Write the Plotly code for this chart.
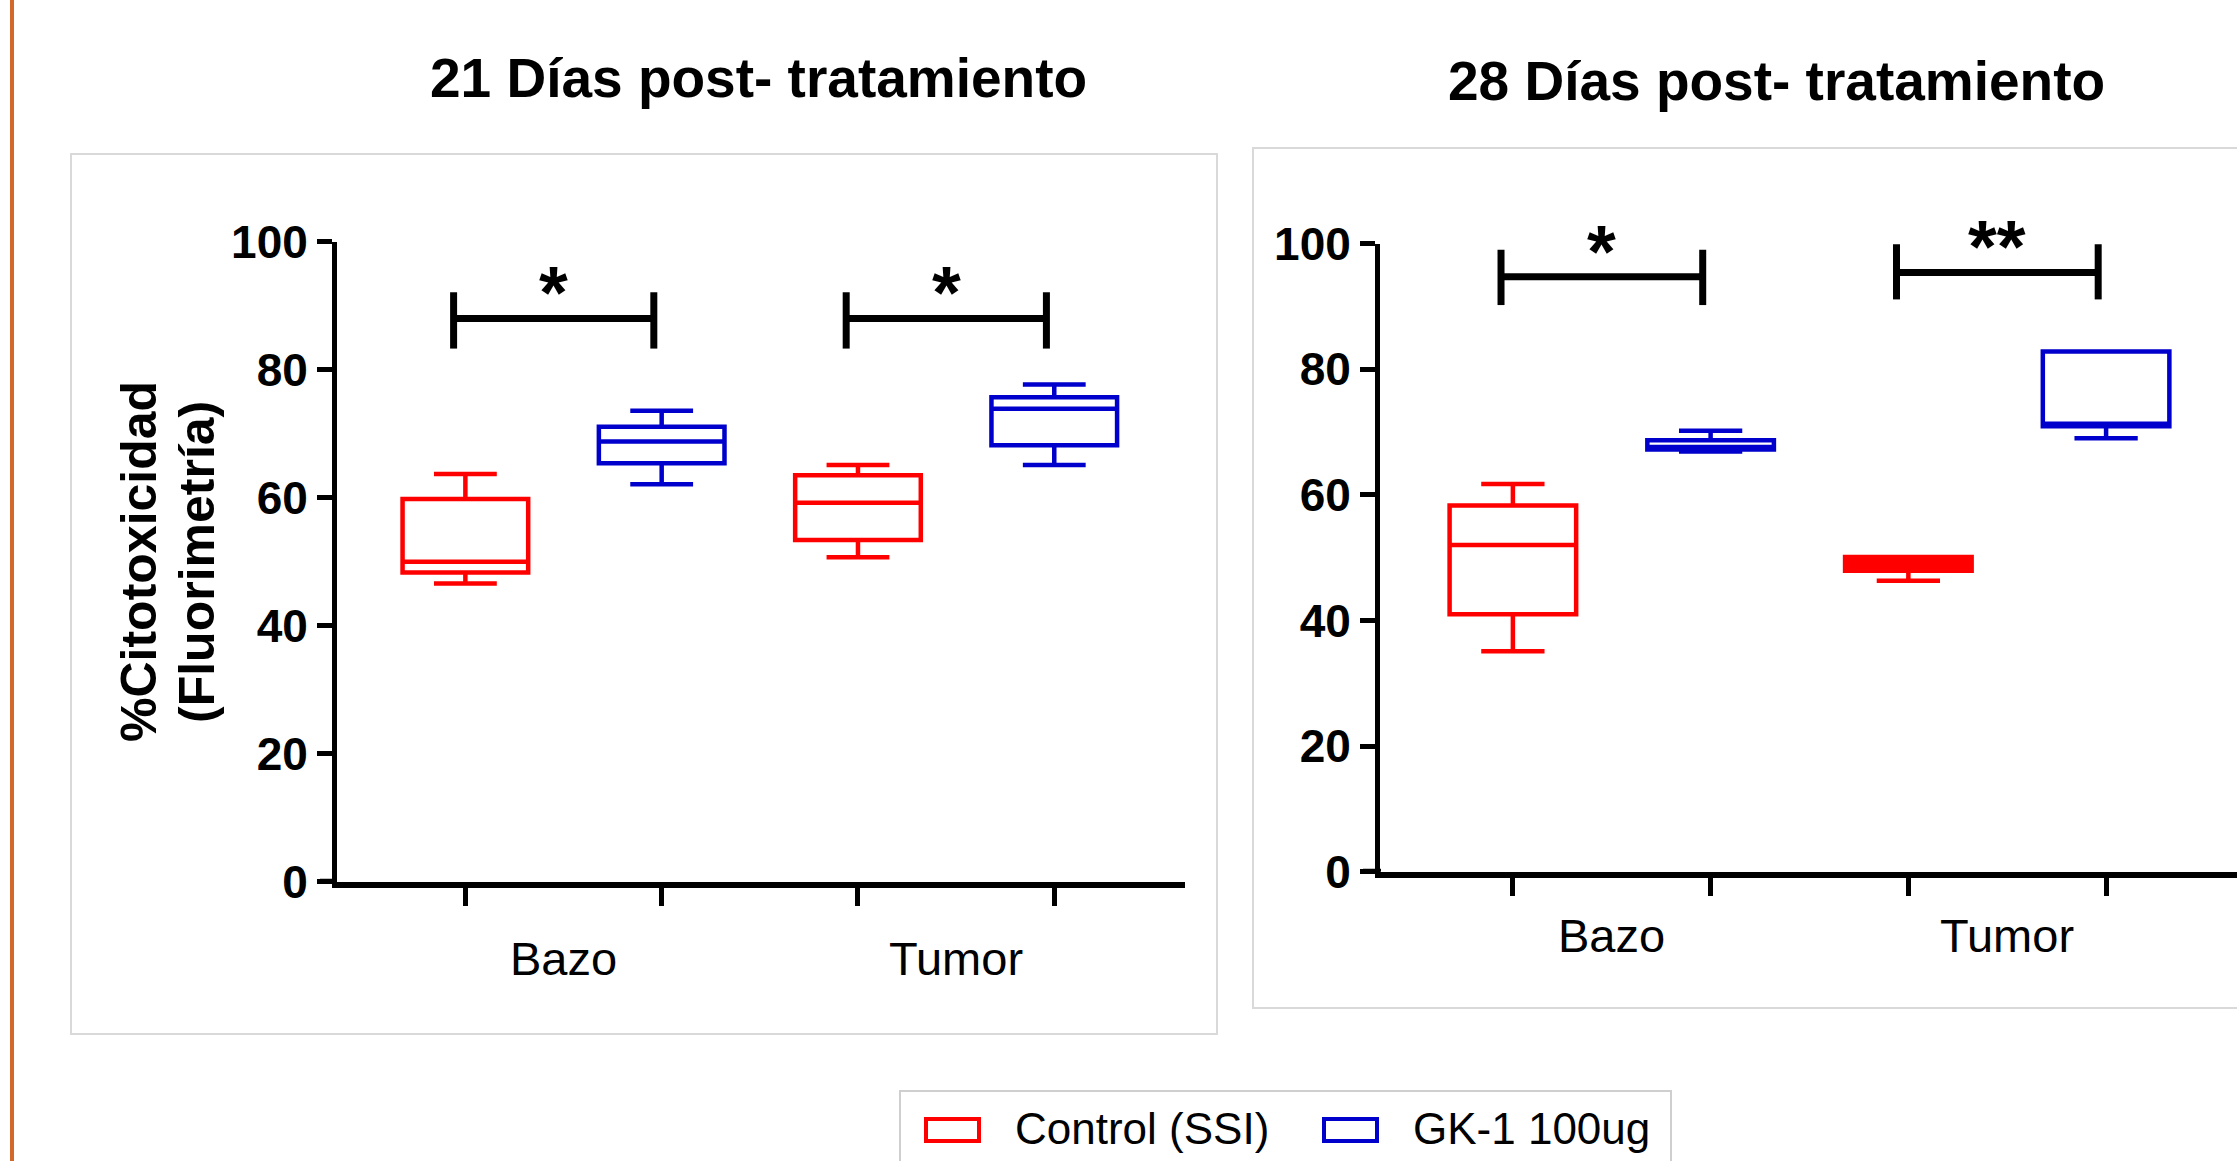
import plotly.graph_objects as go

W, H = 2237, 1161

# ---------------- data ----------------
categories = ["Bazo", "Tumor"]
groups = ["Control (SSI)", "GK-1 100ug"]
colors = ["#FF0000", "#0000CC"]

# 21 days (per category: Bazo, Tumor)
d21_control_lower = [46.6, 50.7]
d21_control_q1 = [48.3, 53.4]
d21_control_median = [50.0, 59.2]
d21_control_q3 = [59.8, 63.5]
d21_control_upper = [63.7, 65.1]

d21_gk_lower = [62.1, 65.1]
d21_gk_q1 = [65.4, 68.2]
d21_gk_median = [68.8, 73.9]
d21_gk_q3 = [71.1, 75.7]
d21_gk_upper = [73.6, 77.7]

# 28 days
d28_control_lower = [35.1, 46.3]
d28_control_q1 = [41.0, 47.9]
d28_control_median = [52.0, 49.0]
d28_control_q3 = [58.3, 50.1]
d28_control_upper = [61.7, 50.1]

d28_gk_lower = [66.9, 69.0]
d28_gk_q1 = [67.2, 70.9]
d28_gk_median = [67.6, 71.3]
d28_gk_q3 = [68.7, 82.8]
d28_gk_upper = [70.2, 82.8]

# significance brackets: (left box, right box, bar level, low end, high end, label)
sig21 = [(0, 1, 88.0, 83.3, 92.1, "*"), (2, 3, 88.0, 83.3, 92.1, "*")]
sig28 = [(0, 1, 94.7, 90.2, 99.0, "*"), (2, 3, 95.4, 91.1, 99.9, "**")]

y_ticks = [0, 20, 40, 60, 80, 100]
titles = ["21 Días post- tratamiento", "28 Días post- tratamiento"]
ytitle_lines = ["%Citotoxicidad", "(Fluorimetría)"]

# ---------------- helpers ----------------
def px(x):
    return x / W

def py(y):
    return 1 - y / H

ctrl_pos = [0, 2]
gk_pos = [1, 3]
box_w = 0.64
LW = 4.5

fig = go.Figure()

panels = [
    ("x", "y", (d21_control_lower, d21_control_q1, d21_control_median, d21_control_q3, d21_control_upper),
     (d21_gk_lower, d21_gk_q1, d21_gk_median, d21_gk_q3, d21_gk_upper)),
    ("x2", "y2", (d28_control_lower, d28_control_q1, d28_control_median, d28_control_q3, d28_control_upper),
     (d28_gk_lower, d28_gk_q1, d28_gk_median, d28_gk_q3, d28_gk_upper)),
]

for i, (xa, ya, ctrl, gk) in enumerate(panels):
    for g, (stats, pos) in enumerate([(ctrl, ctrl_pos), (gk, gk_pos)]):
        lo, q1, me, q3, up = stats
        for k in range(len(categories)):
            # very narrow boxes appear solid in the original
            thin = (q3[k] - q1[k]) < 3
            fill = colors[g] if (thin and g == 0) else "rgba(255,255,255,0)"
            fig.add_trace(go.Box(
                x=[pos[k]], lowerfence=[lo[k]], q1=[q1[k]], median=[me[k]], q3=[q3[k]], upperfence=[up[k]],
                name=groups[g], legendgroup=groups[g], showlegend=False,
                line=dict(color=colors[g], width=LW), fillcolor=fill,
                width=box_w, whiskerwidth=0.5, boxpoints=False,
                xaxis=xa, yaxis=ya,
            ))

shapes = []
annotations = []

# panel frames
shapes.append(dict(type="rect", xref="paper", yref="paper", x0=px(71), x1=px(1217), y0=py(1034), y1=py(154),
                   line=dict(color="#d9d9d9", width=2), fillcolor="white", layer="below"))
shapes.append(dict(type="rect", xref="paper", yref="paper", x0=px(1253), x1=px(2260), y0=py(1008), y1=py(148),
                   line=dict(color="#d9d9d9", width=2), fillcolor="white", layer="below"))
# orange side line
shapes.append(dict(type="line", xref="paper", yref="paper", x0=px(12), x1=px(12), y0=0, y1=1,
                   line=dict(color="#D2692A", width=4)))
# axis stub left of y axis (GraphPad style)
shapes.append(dict(type="line", xref="paper", yref="y", x0=px(320), x1=px(337), y0=0, y1=0,
                   line=dict(color="black", width=6)))
shapes.append(dict(type="line", xref="paper", yref="y2", x0=px(1363), x1=px(1381), y0=0, y1=0,
                   line=dict(color="black", width=6)))

# significance brackets
for xa, ya, sig in [("x", "y", sig21), ("x2", "y2", sig28)]:
    for a, b, lvl, lo, hi, lab in sig:
        xa0, xb0 = a - 0.06, b - 0.04
        shapes.append(dict(type="line", xref=xa, yref=ya, x0=xa0, x1=xb0, y0=lvl, y1=lvl,
                           line=dict(color="black", width=7)))
        shapes.append(dict(type="line", xref=xa, yref=ya, x0=xa0, x1=xa0, y0=lo, y1=hi,
                           line=dict(color="black", width=7)))
        shapes.append(dict(type="line", xref=xa, yref=ya, x0=xb0, x1=xb0, y0=lo, y1=hi,
                           line=dict(color="black", width=7)))
        annotations.append(dict(xref=xa, yref=ya, x=(xa0 + xb0) / 2, y=lvl, text=lab, showarrow=False,
                                xanchor="center", yanchor="bottom", yshift=-18,
                                font=dict(family="Liberation Sans, Arial", size=74, color="black", weight="bold")))

# category labels
for xa, yl in [("x", 958), ("x2", 935)]:
    for k, cat in enumerate(categories):
        annotations.append(dict(xref=xa, yref="paper", x=(ctrl_pos[k] + gk_pos[k]) / 2, y=py(yl), text=cat,
                                showarrow=False, xanchor="center", yanchor="middle",
                                font=dict(family="Liberation Sans, Arial", size=47, color="black")))

# titles
for t, (cx, cy) in zip(titles, [(758, 78), (1776, 81)]):
    annotations.append(dict(xref="paper", yref="paper", x=px(cx), y=py(cy), text=t, showarrow=False,
                            xanchor="center", yanchor="middle",
                            font=dict(family="Liberation Sans, Arial", size=55, color="black", weight="bold")))

# y axis title (two lines)
for line, cx in zip(ytitle_lines, [139, 197]):
    annotations.append(dict(xref="paper", yref="paper", x=px(cx), y=py(562), text=line, showarrow=False,
                            textangle=-90, xanchor="center", yanchor="middle",
                            font=dict(family="Liberation Sans, Arial", size=50, color="black", weight="bold")))

# manual legend
shapes.append(dict(type="rect", xref="paper", yref="paper", x0=px(900), x1=px(1671), y0=py(1175), y1=py(1091),
                   line=dict(color="#cfcfcf", width=2), fillcolor="white"))
for g, (ix0, tx) in enumerate([(926, 1013), (1324, 1411)]):
    shapes.append(dict(type="rect", xref="paper", yref="paper", x0=px(ix0), x1=px(ix0 + 53),
                       y0=py(1141), y1=py(1119), line=dict(color=colors[g], width=4),
                       fillcolor="rgba(255,255,255,0)"))
    annotations.append(dict(xref="paper", yref="paper", x=px(tx), y=py(1128), text=groups[g], showarrow=False,
                            xanchor="left", yanchor="middle",
                            font=dict(family="Liberation Sans, Arial", size=44, color="black")))

axis_common_y = dict(range=[0, 100], tickvals=y_ticks, showline=True, linewidth=5, linecolor="black",
                     ticks="outside", ticklen=15, tickwidth=5, tickcolor="black", showgrid=False, zeroline=False,
                     automargin=False,
                     tickfont=dict(family="Liberation Sans, Arial", size=46, color="black", weight="bold"))
axis_common_x = dict(tickvals=[0, 1, 2, 3], ticktext=["", "", "", ""], showline=True, linewidth=6,
                     linecolor="black", ticks="outside", ticklen=18, tickwidth=5, tickcolor="black",
                     showgrid=False, zeroline=False, automargin=False)

fig.update_layout(
    width=W, height=H,
    margin=dict(l=0, r=0, t=0, b=0, pad=0, autoexpand=False),
    paper_bgcolor="white", plot_bgcolor="rgba(0,0,0,0)",
    showlegend=False,
    boxmode="overlay",
    xaxis=dict(domain=[px(337), px(1185)], range=[-0.654, 3.666], anchor="y", **axis_common_x),
    yaxis=dict(domain=[py(881.7), py(241.7)], anchor="x", **axis_common_y),
    xaxis2=dict(domain=[px(1380), 1.0], range=[-0.672, 3.662], anchor="y2", **axis_common_x),
    yaxis2=dict(domain=[py(871.7), py(243.5)], anchor="x2", **axis_common_y),
    shapes=shapes,
    annotations=annotations,
)

fig.write_html("out.html")
